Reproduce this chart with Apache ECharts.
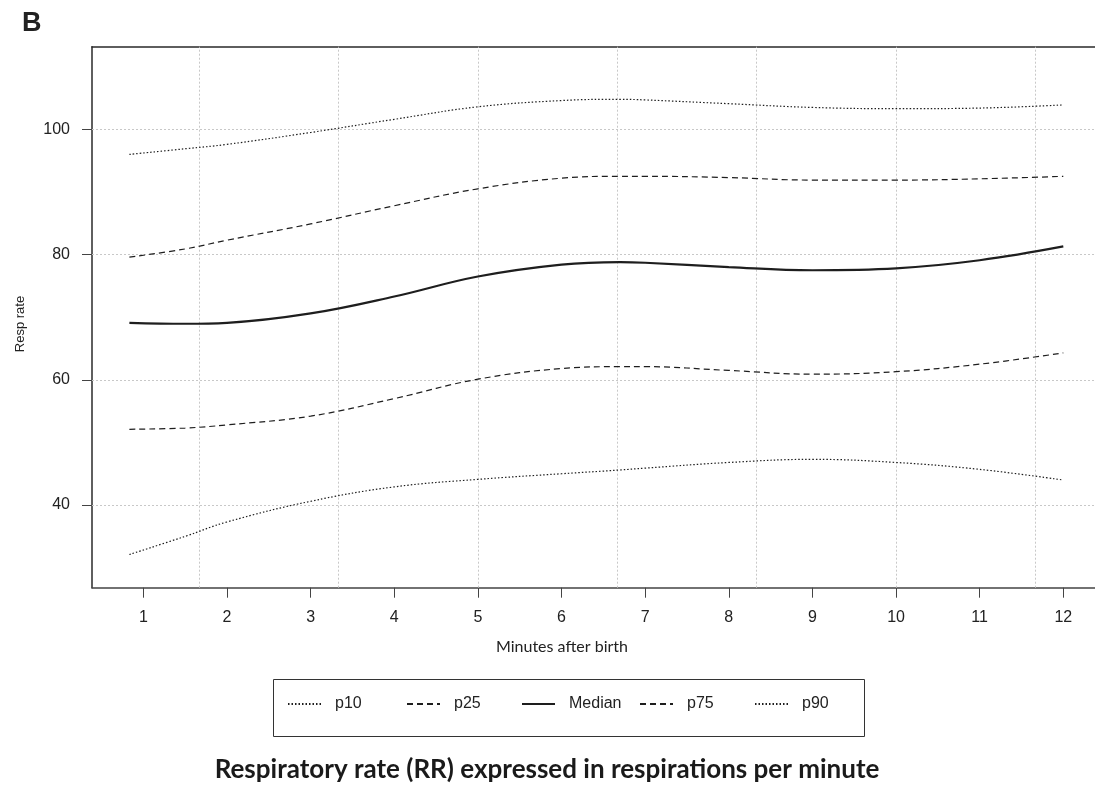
<!DOCTYPE html>
<html>
<head>
<meta charset="utf-8">
<script src="https://cdn.jsdelivr.net/npm/echarts@6/dist/echarts.min.js"></script>
<style>html,body{margin:0;padding:0;background:#fff}#c{width:1095px;height:787px}</style>
</head>
<body>
<div id="c"></div>
<script>
// ---- data ----
var minutes = [0.833, 1.5, 2, 3, 4, 5, 6, 6.7, 7, 8, 9, 10, 11, 12];
var p10    = [32.1, 35.0, 37.3, 40.6, 42.9, 44.1, 45.0, 45.6, 45.9, 46.8, 47.3, 46.8, 45.7, 44.0];
var p25    = [52.1, 52.3, 52.8, 54.2, 57.0, 60.1, 61.8, 62.1, 62.1, 61.5, 60.9, 61.3, 62.5, 64.3];
var median = [69.1, 68.95, 69.1, 70.6, 73.3, 76.5, 78.4, 78.8, 78.7, 78.0, 77.5, 77.8, 79.1, 81.3];
var p75    = [79.6, 80.9, 82.3, 84.9, 87.8, 90.5, 92.2, 92.5, 92.5, 92.3, 91.9, 91.9, 92.1, 92.5];
var p90    = [96.0, 96.9, 97.6, 99.5, 101.6, 103.6, 104.6, 104.8, 104.7, 104.1, 103.5, 103.3, 103.4, 103.9];
var xTicks = [1, 2, 3, 4, 5, 6, 7, 8, 9, 10, 11, 12];
var yTicks = [40, 60, 80, 100];
var xGrid  = [5/3, 10/3, 5, 20/3, 25/3, 10, 35/3];
var seriesNames = ['p10', 'p25', 'Median', 'p75', 'p90'];
var title = 'Respiratory rate (RR) expressed in respirations per minute';

function pairs(ys){ return minutes.map(function(x,i){ return [x, ys[i]]; }); }

var dotted = [1.5, 2];
var dashed = [6, 4];
var styles = {
  'p10':    {type: dotted, width: 1.2},
  'p25':    {type: dashed, width: 1.2},
  'Median': {type: 'solid', width: 2.2},
  'p75':    {type: dashed, width: 1.2},
  'p90':    {type: dotted, width: 1.2}
};
var values = {'p10': p10, 'p25': p25, 'Median': median, 'p75': p75, 'p90': p90};

var gridLineStyle = {color: '#c8c8c8', type: [2, 2], width: 1};
var markData = xGrid.map(function(v){ return {xAxis: v}; })
  .concat(yTicks.map(function(v){ return {yAxis: v}; }));

var series = seriesNames.map(function(n, i){
  var s = {
    name: n, type: 'line', data: pairs(values[n]),
    symbol: 'none', showSymbol: false, smooth: 0.4, z: 3,
    lineStyle: {color: '#1e1e1e', width: styles[n].width, type: styles[n].type},
    itemStyle: {color: '#1e1e1e'}
  };
  if (i === 0) {
    s.markLine = {silent: true, symbol: ['none','none'], label: {show: false},
      lineStyle: gridLineStyle, animation: false, z: 1, data: markData};
  }
  return s;
});

var legendLefts = [287, 406, 521, 639, 754];
var legends = seriesNames.map(function(n, i){
  return {
    data: [n], left: legendLefts[i], top: 696, orient: 'horizontal',
    itemWidth: 33, itemHeight: 16, padding: 0,
    itemStyle: {opacity: 0, borderWidth: 0},
    textStyle: {fontFamily: 'Liberation Sans', fontSize: 16, color: '#222', padding: [0,0,0,9]},
    selectedMode: false
  };
});

var chart = echarts.init(document.getElementById('c'), null, {renderer: 'canvas'});
chart.setOption({
  animation: false,
  backgroundColor: '#fff',
  grid: {left: 92, right: 0, top: 46.7, bottom: 199.3, show: false},
  xAxis: [{
    type: 'value', min: 0.386, max: 12.379,
    axisLine: {show: true, onZero: false, lineStyle: {color: '#444', width: 1.5}},
    axisTick: {show: true, inside: false, length: 10, customValues: xTicks, lineStyle: {color: '#444', width: 1}},
    axisLabel: {customValues: xTicks, margin: 22, fontFamily: 'Liberation Sans', fontSize: 16, color: '#222'},
    splitLine: {show: false}
  }, {
    type: 'value', position: 'top', min: 0.386, max: 12.379,
    axisLine: {show: true, onZero: false, lineStyle: {color: '#2a2a2a', width: 1.5}},
    axisTick: {show: false}, axisLabel: {show: false}, splitLine: {show: false}
  }],
  yAxis: {
    type: 'value', min: 26.8, max: 113.2,
    axisLine: {show: true, onZero: false, lineStyle: {color: '#2a2a2a', width: 1.5}},
    axisTick: {show: true, inside: false, length: 10, customValues: yTicks, lineStyle: {color: '#444', width: 1}},
    axisLabel: {customValues: yTicks, margin: 22, fontFamily: 'Liberation Sans', fontSize: 16, color: '#222'},
    splitLine: {show: false}
  },
  legend: legends,
  series: series,
  graphic: [
    {type: 'text', x: 22, y: 23.5, style: {text: 'B', font: 'bold 27px "Liberation Sans"', fill: '#222', verticalAlign: 'middle'}},
    {type: 'text', x: 20, y: 324, rotation: Math.PI/2,
     style: {text: 'Resp rate', font: '13px "Liberation Sans"', fill: '#222', align: 'center', verticalAlign: 'middle'}},
    {type: 'text', x: 562, y: 647,
     style: {text: 'Minutes after birth', font: '16px Lato', fill: '#222', align: 'center', verticalAlign: 'middle'}},
    {type: 'rect', shape: {x: 273.5, y: 679.5, width: 591, height: 57}, silent: true, z: -1,
     style: {fill: 'none', stroke: '#333', lineWidth: 1}},
    {type: 'text', x: 547, y: 770,
     style: {text: title, font: 'bold 26px Lato', fill: '#1a1a1a', align: 'center', verticalAlign: 'middle'}}
  ]
});
</script>
</body>
</html>
